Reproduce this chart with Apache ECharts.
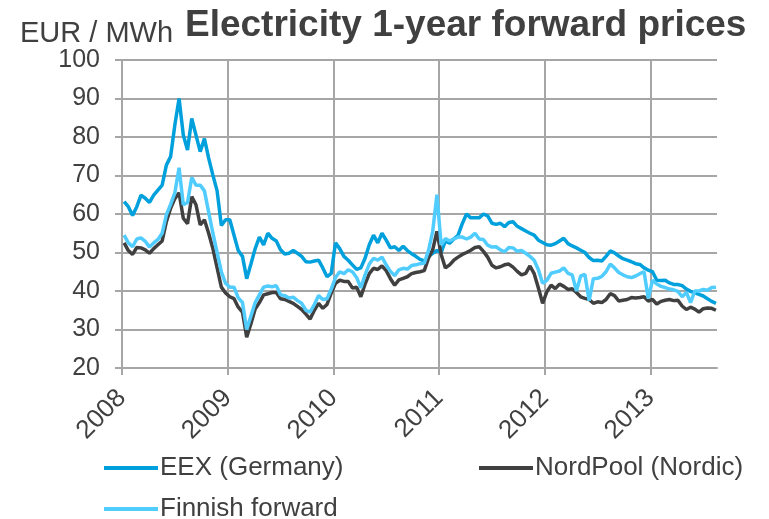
<!DOCTYPE html>
<html>
<head>
<meta charset="utf-8">
<script src="https://cdn.jsdelivr.net/npm/echarts@6/dist/echarts.min.js"></script>
<style>
  html, body { margin: 0; padding: 0; background: #fff; }
  #chart { width: 769px; height: 519px; }
</style>
</head>
<body>
<div id="chart"></div>
<script>
// sampling of the curves: every 0.04 year starting from early January 2008
const startYear = 2008.02
const step = 0.04

const yearTicks = [2008, 2009, 2010, 2011, 2012, 2013]

const eex = [
  63.2, 61.9, 59.6, 61.9, 64.9, 64.1, 63, 64.9, 66.2, 67.5, 72.7, 74.9, 83.1, 90, 80.5, 76.6, 84.8, 80.5, 76.2, 79.6, 74.5, 70.1, 66, 57, 58.5,
  58.5, 54.5, 50.5, 49, 43.2, 47, 51, 54, 52, 55, 53.7, 53, 50.7, 49.6, 49.8, 50.5, 49.8, 49, 47.6, 47.5, 47.8, 48, 46, 43.7, 44.6, 52.5, 51, 49, 48,
  46.8, 45.6, 46, 48.5, 52, 54.5, 52.5, 55, 53.2, 51.2, 51.5, 50.5, 51.6, 50.5, 49.7, 49, 48.2, 47.8, 49, 49.8, 50.5, 50, 53, 52.4, 53.5, 54.5, 57.5,
  60, 59, 59, 59, 60, 59.5, 57.6, 57.3, 57.6, 56.7, 57.8, 58, 56.8, 56.2, 55.6, 55, 54.5, 53.2, 52.6, 52, 51.9, 52.3, 53, 53.7, 52.3, 51.7, 51.2, 50.6, 50, 48.7,
  47.9, 48, 47.8, 49, 50.4, 49.9, 49.1, 48.4, 48, 47.6, 47.1, 46.9, 46, 45.4, 45, 42.8, 42.7, 42.8, 42.1, 41.7, 41.7, 41.4, 40.5, 39.9, 39.5, 39.1, 38.7, 38, 37.3, 36.8
]

const nordpool = [
  52.5, 50.5, 49.5, 51.3, 51.2, 50.7, 49.8, 51, 52, 53, 58, 61.5, 64, 65.5, 58.9, 57.5, 64.5, 62.4, 57.2, 58.5, 55, 51, 46, 41, 39.5,
  38.5, 38, 35.8, 34.5, 28, 31.5, 35.3, 37, 39, 39.3, 39.6, 39.6, 38, 37.8, 37.3, 36.8, 36, 35.2, 34, 32.7, 35, 36.8, 35.5, 36.5, 39.5, 42, 42.8, 42.5, 42.5,
  40.8, 41, 38.5, 41.8, 44.5, 45.9, 45.6, 46.5, 45.3, 43.2, 41.5, 42.9, 43.3, 43.7, 44.5, 44.8, 45, 45.3, 48.5, 50.7, 55.5, 49.5, 46, 46.8, 48, 48.8, 49.5,
  50, 50.6, 51.3, 51.5, 50.3, 48.8, 46.7, 46, 46.3, 46.8, 47, 46.2, 45.1, 44.2, 44.6, 46.5, 44.5, 40.8, 36.8, 39.8, 41.5, 40.6, 41.8, 41.2, 40.4, 40.6, 39.6, 38.5, 38.1, 37.8,
  36.8, 37.2, 37, 37.8, 39.3, 38.8, 37.4, 37.6, 37.8, 38.3, 38.2, 38.3, 38.5, 37.4, 37.8, 36.6, 37.3, 37.6, 37.8, 37.5, 37.6, 36.1, 35.2, 35.8, 35.3, 34.5, 35.4, 35.6, 35.5, 35
]

const finnish = [
  54.5, 52.5, 51.5, 53.5, 53.8, 52.9, 51.4, 52.5, 53.4, 55, 59.8, 62.5, 65.5, 72, 62.4, 63, 69.5, 67.5, 67.5, 66, 60.5, 55, 50, 45, 42,
  41, 41, 38.2, 37, 30, 33.5, 37, 39, 41, 41.3, 41.1, 41.4, 39, 38.8, 38.2, 38.4, 37.5, 36.8, 35, 34.5, 36.5, 38.8, 37.8, 38, 40.5, 43.5, 45, 44.5, 45.5,
  45, 43.5, 40.8, 44.2, 47, 48.5, 48, 48.8, 46.8, 45.1, 44, 45.5, 45.9, 45.7, 46.6, 46.8, 47.1, 47.2, 50.5, 55.5, 65, 52, 53.6, 53, 53.5, 54, 54,
  53.5, 54, 55, 53.5, 53.4, 51.9, 51.4, 51.5, 50.7, 50.2, 51.3, 51.2, 50.3, 50.5, 49.8, 49, 48, 45.5, 42, 42.8, 44.6, 44.9, 45.2, 46, 44.6, 44.2, 40, 43.9, 44.3, 37.5,
  43.2, 43.3, 43.8, 45, 47, 46, 44.8, 44.2, 43.7, 43.5, 43.9, 44.5, 45, 38, 42.8, 41.8, 41.2, 40.9, 40.5, 40.3, 39.9, 38.5, 39.6, 37, 40, 40, 40.4, 40.2, 40.9, 41
]

const toPoints = vals => vals.map((v, i) => [+(startYear + i * step).toFixed(2), v])

const textColor = '#404040'
const gridColor = '#a6a6a6'
const font = 'Liberation Sans, Arial, sans-serif'

const chart = echarts.init(document.getElementById('chart'))

const legendBase = {
  icon: 'rect',
  padding: 0,
  itemWidth: 54,
  itemHeight: 4,
  itemGap: 4,
  textStyle: { color: textColor, fontSize: 26, fontFamily: font, padding: [0, 0, 0, -3] }
}

chart.setOption({
  animation: false,
  backgroundColor: '#fff',
  title: [
    {
      text: 'Electricity 1-year forward prices',
      left: 185,
      top: 7,
      padding: 0,
      textStyle: { color: textColor, fontSize: 37, fontWeight: 'bold', fontFamily: font }
    },
    {
      text: 'EUR / MWh',
      left: 20,
      top: 19,
      padding: 0,
      textStyle: { color: textColor, fontSize: 29, fontWeight: 'normal', fontFamily: font }
    }
  ],
  legend: [
    Object.assign({ left: 104, top: 455, data: ['EEX (Germany)'] }, legendBase),
    Object.assign({ left: 479, top: 455, data: ['NordPool (Nordic)'] }, legendBase),
    Object.assign({ left: 104, top: 496, data: ['Finnish forward'] }, legendBase)
  ],
  grid: { left: 122, right: 52, top: 60, bottom: 151, containLabel: false },
  xAxis: {
    type: 'value',
    min: yearTicks[0],
    max: 2013.63,
    interval: 1,
    axisLine: { show: true, lineStyle: { color: gridColor, width: 2 } },
    axisTick: { show: true, length: 7, lineStyle: { color: gridColor, width: 2 } },
    axisLabel: {
      rotate: 45,
      margin: 26,
      color: textColor,
      fontSize: 26,
      fontFamily: font,
      showMaxLabel: false,
      formatter: v => (yearTicks.indexOf(v) >= 0 ? String(v) : '')
    },
    splitLine: { show: true, showMaxLine: false, lineStyle: { color: gridColor, width: 2 } }
  },
  yAxis: {
    type: 'value',
    min: 20,
    max: 100,
    interval: 10,
    axisLine: { show: true, lineStyle: { color: gridColor, width: 2 } },
    axisTick: { show: true, length: 7, lineStyle: { color: gridColor, width: 2 } },
    axisLabel: { color: textColor, fontSize: 25, fontFamily: font, margin: 22 },
    splitLine: { show: true, lineStyle: { color: gridColor, width: 2 } }
  },
  series: [
    {
      name: 'EEX (Germany)',
      type: 'line',
      showSymbol: false,
      color: '#00a0dc',
      lineStyle: { width: 3.5 },
      data: toPoints(eex)
    },
    {
      name: 'NordPool (Nordic)',
      type: 'line',
      showSymbol: false,
      color: '#404040',
      lineStyle: { width: 3.5 },
      data: toPoints(nordpool)
    },
    {
      name: 'Finnish forward',
      type: 'line',
      showSymbol: false,
      color: '#50ccff',
      lineStyle: { width: 3.5 },
      data: toPoints(finnish)
    }
  ]
})
</script>
</body>
</html>
